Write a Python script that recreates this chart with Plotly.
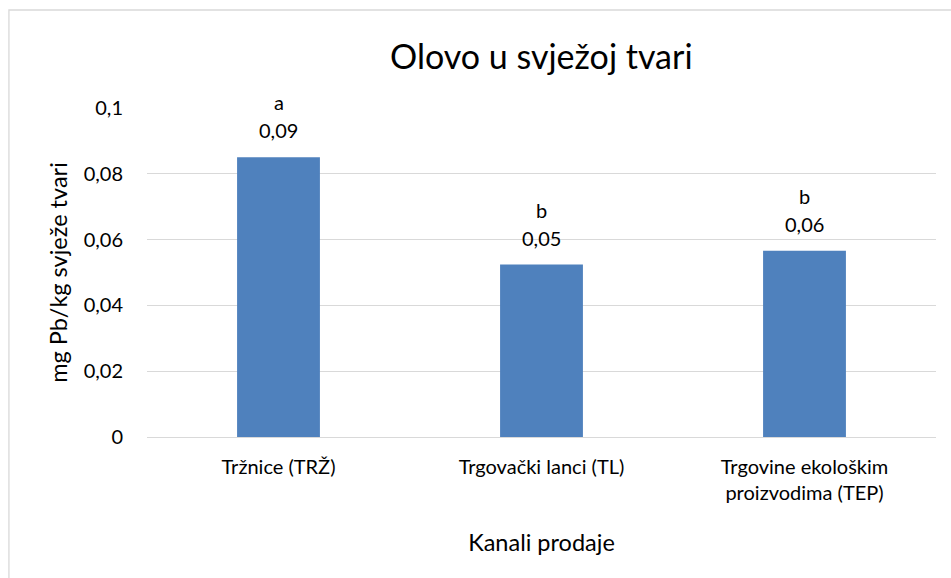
import plotly.graph_objects as go

categories = ["Tržnice (TRŽ)", "Trgovački lanci (TL)", "Trgovine ekološkim<br>proizvodima (TEP)"]
values = [0.0850, 0.0524, 0.0566]
value_labels = ["0,09", "0,05", "0,06"]
letters = ["a", "b", "b"]
y_ticks = [0, 0.02, 0.04, 0.06, 0.08, 0.1]
y_tick_labels = ["0", "0,02", "0,04", "0,06", "0,08", "0,1"]

FONT = "Lato, 'Open Sans', sans-serif"
L, R, T, B = 147, 935.6, 108, 437
W, H = 951, 578

fig = go.Figure()
fig.add_trace(go.Bar(x=categories, y=values, width=0.315,
                     marker=dict(color="#4F81BD", line=dict(width=0)),
                     hoverinfo="skip"))

for c, v, vl, lt in zip(categories, values, value_labels, letters):
    fig.add_annotation(x=c, y=v, text=vl, showarrow=False, yshift=27,
                       font=dict(size=20, color="#000000", family=FONT))
    fig.add_annotation(x=c, y=v, text=lt, showarrow=False, yshift=55,
                       font=dict(size=20, color="#000000", family=FONT))

pw = R - L
ph = B - T
fig.add_shape(type="rect", xref="paper", yref="paper",
              x0=(9 - L) / pw, x1=(960 - L) / pw,
              y0=(B - 590) / ph, y1=(B - 10) / ph,
              line=dict(color="#D9D9D9", width=1.3), fillcolor="rgba(0,0,0,0)", layer="below")

fig.update_layout(
    width=W, height=H,
    margin=dict(l=L, r=W - R, t=T, b=H - B, pad=0),
    paper_bgcolor="white", plot_bgcolor="white",
    showlegend=False,
    font=dict(family=FONT, color="#000000"),
    title=dict(text="Olovo u svježoj tvari", x=(L + R) / 2 / W, xanchor="center",
               y=1 - 57 / H, yanchor="middle",
               font=dict(size=34, family=FONT, color="#000000")),
    bargap=0.685,
)
fig.update_xaxes(showgrid=False, showline=True, linecolor="#D9D9D9", linewidth=1.3,
                 ticks="", ticklabelstandoff=12,
                 tickfont=dict(size=20, family=FONT, color="#000000"),
                 title=dict(text="Kanali prodaje", font=dict(size=23.5, family=FONT, color="#000000"),
                            standoff=31))
fig.update_yaxes(range=[0, 0.1], tickvals=y_ticks, ticktext=y_tick_labels,
                 showgrid=True, gridcolor="#D9D9D9", gridwidth=1.3,
                 zeroline=False, showline=False, ticks="", ticklabelstandoff=23,
                 tickfont=dict(size=20, family=FONT, color="#000000"),
                 title=dict(text="mg Pb/kg svježe tvari", font=dict(size=23.5, family=FONT, color="#000000"),
                            standoff=9))

fig.write_html("out.html", config={"displayModeBar": False},
               post_script="document.body.style.margin='0';")
